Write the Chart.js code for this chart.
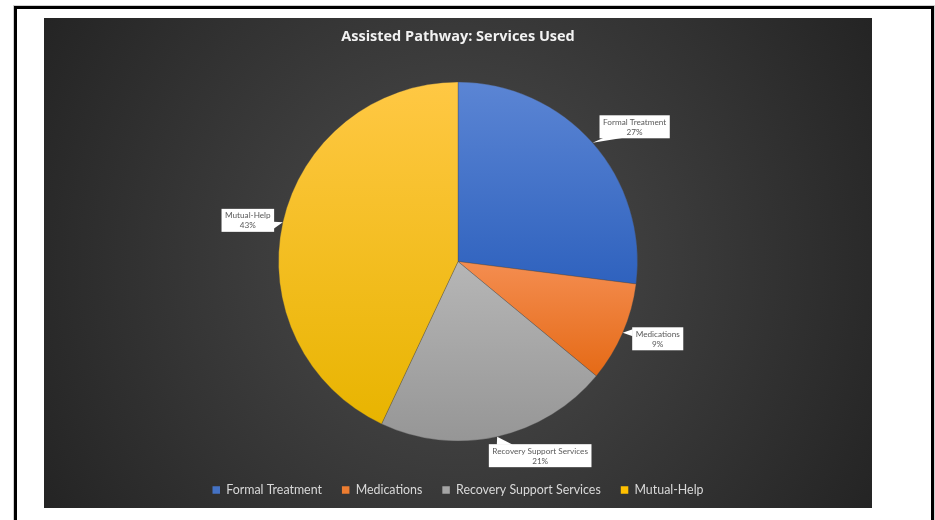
<!DOCTYPE html>
<html>
<head>
<meta charset="utf-8">
<script src="https://cdn.jsdelivr.net/npm/chart.js@4.4.1/dist/chart.umd.min.js"></script>
<style>
  html, body { margin: 0; padding: 0; background: #ffffff; width: 935px; height: 520px; overflow: hidden; }
  #frame { position: absolute; left: 14px; top: 6px; width: 914px; height: 540px; border: 3px solid #000; box-shadow: 0 0 0 1px #cfcfcf; }
  #wrap { position: absolute; left: 44px; top: 18px; width: 828px; height: 490px; }
</style>
</head>
<body>
<div id="frame"></div>
<div id="wrap"><canvas id="pathway" width="828" height="490"></canvas></div>
<script>
// Services used on the assisted pathway (share of respondents, %)
const categories = ['Formal Treatment', 'Medications', 'Recovery Support Services', 'Mutual-Help'];
const shares = [27, 9, 21, 43];

// Office palette: legend swatch colour and the light/dark ends of each slice's shading
const baseColors = ['#4472c4', '#ed7d31', '#a5a5a5', '#ffc000'];
const shadeColors = [
  ['#5b85d4', '#2f62be'],
  ['#f48d50', '#e56a16'],
  ['#b6b6b6', '#969696'],
  ['#ffc844', '#e8b400']
];

const PIE_RADIUS = 179.5;

// Callout placement for each data label: box offset from the slice's rim point,
// and which box edge the pointer leaves from (from/to measured along that edge)
const calloutLayout = [
  { dx: 42, dy: -16, side: 'bottom', from: 4, to: 24 },
  { dx: 35, dy: 6, side: 'left', from: 2, to: 9 },
  { dx: 43, dy: 19, side: 'top', from: 8, to: 24 },
  { dx: -35, dy: -2, side: 'right', from: 13, to: 20 }
];

// Vertical shading per slice, spanning that slice's own top-to-bottom extent
function sliceFill(ctx) {
  const chart = ctx.chart;
  const area = chart.chartArea;
  const i = ctx.dataIndex;
  if (!area || i === undefined) return baseColors[i || 0];
  const total = shares.reduce((a, b) => a + b, 0);
  let cum = 0;
  for (let k = 0; k < i; k++) cum += shares[k];
  const start = -Math.PI / 2 + 2 * Math.PI * cum / total;
  const end = start + 2 * Math.PI * shares[i] / total;
  const cy = (area.top + area.bottom) / 2;
  const ys = [cy, cy + PIE_RADIUS * Math.sin(start), cy + PIE_RADIUS * Math.sin(end)];
  [-Math.PI / 2, Math.PI / 2, 3 * Math.PI / 2].forEach(a => {
    if (a > start && a < end) ys.push(cy + PIE_RADIUS * Math.sin(a));
  });
  const y0 = Math.min(...ys), y1 = Math.max(...ys);
  const g = chart.ctx.createLinearGradient(0, y0, 0, y1);
  g.addColorStop(0, shadeColors[i][0]);
  g.addColorStop(1, shadeColors[i][1]);
  return g;
}

// Dark radial backdrop behind the whole chart
const backdrop = {
  id: 'backdrop',
  beforeDraw(chart) {
    const { ctx, width, height } = chart;
    const g = ctx.createRadialGradient(width / 2, height / 2, 0, width / 2, height / 2, Math.hypot(width, height) / 2);
    g.addColorStop(0, '#4d4d4d');
    g.addColorStop(1, '#242424');
    ctx.save();
    ctx.fillStyle = g;
    ctx.fillRect(0, 0, width, height);
    ctx.restore();
  }
};

// White callout boxes with a pointer to each slice, showing name and percentage
const callouts = {
  id: 'callouts',
  afterDatasetsDraw(chart) {
    const { ctx } = chart;
    const meta = chart.getDatasetMeta(0);
    ctx.save();
    ctx.font = '8.2px Lato';
    meta.data.forEach((arc, i) => {
      const p = arc.getProps(['x', 'y', 'startAngle', 'endAngle', 'outerRadius'], true);
      const mid = (p.startAngle + p.endAngle) / 2;
      const tx = p.x + Math.cos(mid) * p.outerRadius;
      const ty = p.y + Math.sin(mid) * p.outerRadius;
      const lines = [categories[i], shares[i] + '%'];
      const w = Math.max(...lines.map(t => ctx.measureText(t).width)) + 7;
      const h = 23;
      const lay = calloutLayout[i];
      const cx = tx + lay.dx, cy = ty + lay.dy;
      const L = cx - w / 2, T = cy - h / 2, R = L + w, B = T + h;
      ctx.fillStyle = '#ffffff';
      ctx.fillRect(L, T, w, h);
      ctx.beginPath();
      ctx.moveTo(tx, ty);
      if (lay.side === 'bottom') { ctx.lineTo(L + lay.from, B - 0.5); ctx.lineTo(L + lay.to, B - 0.5); }
      if (lay.side === 'top') { ctx.lineTo(L + lay.from, T + 0.5); ctx.lineTo(L + lay.to, T + 0.5); }
      if (lay.side === 'left') { ctx.lineTo(L + 0.5, T + lay.from); ctx.lineTo(L + 0.5, T + lay.to); }
      if (lay.side === 'right') { ctx.lineTo(R - 0.5, T + lay.from); ctx.lineTo(R - 0.5, T + lay.to); }
      ctx.closePath();
      ctx.fill();
      ctx.fillStyle = '#595959';
      ctx.textAlign = 'center';
      ctx.textBaseline = 'middle';
      ctx.fillText(lines[0], cx, cy - 4.5);
      ctx.fillText(lines[1], cx, cy + 5.5);
    });
    ctx.restore();
  }
};

new Chart(document.getElementById('pathway'), {
  type: 'pie',
  data: {
    labels: categories,
    datasets: [{
      data: shares,
      backgroundColor: sliceFill,
      borderColor: 'rgba(70,70,70,0.55)',
      borderWidth: 0.6,
      radius: PIE_RADIUS
    }]
  },
  options: {
    responsive: false,
    animation: false,
    events: [],
    layout: { padding: { top: 0, left: 0, right: 0, bottom: 1.8 } },
    plugins: {
      title: {
        display: true,
        text: 'Assisted Pathway: Services Used',
        color: '#f2f2f2',
        font: { family: 'Open Sans', weight: 'bold', size: 14.5, lineHeight: 1.2 },
        padding: { top: 10.3, bottom: 13.5 }
      },
      legend: {
        position: 'bottom',
        labels: {
          color: '#d9d9d9',
          font: { family: 'Lato', size: 12.4 },
          boxWidth: 7.5,
          boxHeight: 7.5,
          padding: 20,
          generateLabels(chart) {
            return categories.map((c, i) => ({
              text: c,
              fillStyle: baseColors[i],
              strokeStyle: baseColors[i],
              lineWidth: 0,
              fontColor: '#d9d9d9',
              hidden: false,
              index: i
            }));
          }
        }
      },
      tooltip: { enabled: false }
    }
  },
  plugins: [backdrop, callouts]
});
</script>
</body>
</html>
